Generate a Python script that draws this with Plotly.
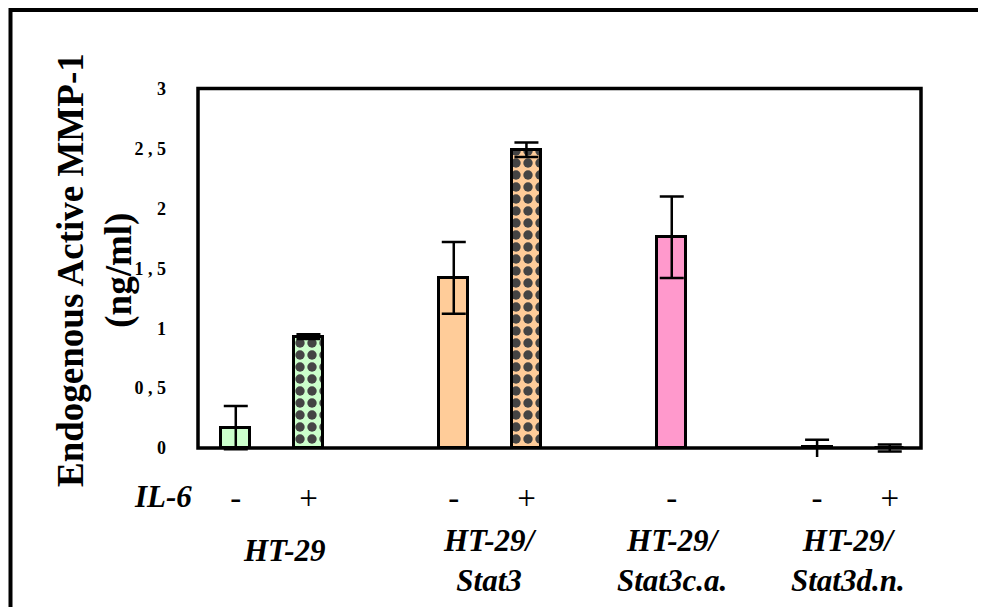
import plotly.graph_objects as go

# ---- data ----
groups = ["HT-29", "HT-29/<br>Stat3", "HT-29/<br>Stat3c.a.", "HT-29/<br>Stat3d.n."]
bar_group = [0, 0, 1, 1, 2, 3, 3]
il6 = ["-", "+", "-", "+", "-", "-", "+"]
values = [0.17, 0.93, 1.42, 2.49, 1.76, 0.005, 0.0]
errors_plus = [0.18, 0.02, 0.30, 0.06, 0.34, 0.065, 0.03]
errors_minus = [0.18, 0.02, 0.30, 0.06, 0.34, 0.10, 0.03]
yticks = [0, 0.5, 1, 1.5, 2, 2.5, 3]
ytick_labels = ["0", "0 , 5", "1", "1 , 5", "2", "2 , 5", "3"]

group_colors = ["#CCFFCC", "#FFCC99", "#FF99CC", "#FFFFFF"]

# slot positions: consecutive within a group, one empty slot between groups
slots = []
s = 0
for i, g in enumerate(bar_group):
    if i > 0:
        s += 1 if g == bar_group[i - 1] else 2
    slots.append(s)

colors = [group_colors[g] for g in bar_group]
shapes_pat = ["." if v == "+" else "" for v in il6]

fig = go.Figure()
fig.add_trace(go.Bar(
    x=slots, y=values, width=0.4,
    marker=dict(color=colors, line=dict(color="black", width=3),
                pattern=dict(shape=shapes_pat, fgcolor="black", bgcolor=colors,
                             fgopacity=1, size=12, solidity=0.48)),
    error_y=dict(type="data", array=errors_plus, arrayminus=errors_minus,
                 symmetric=False, visible=True, color="black",
                 thickness=2.5, width=12),
    showlegend=False,
))

# page body has an 8px margin: lay out in screen pixels, convert to figure pixels
OFF = 8
W, H = 986 - OFF, 615 - 16
L = 198 - OFF
R = W - (921 - OFF)
T = 77
B = H - 449
pw, ph = W - L - R, H - T - B

def px(xscreen):
    return (xscreen - OFF - L) / pw

def py(yscreen):
    return (H - B - (yscreen - OFF)) / ph

serif = "Liberation Serif, Times New Roman, serif"

annotations = [
    dict(text="Endogenous Active MMP-1<br>(ng/ml)", textangle=-90,
         xref="paper", yref="paper", x=px(95), y=py(270),
         xanchor="center", yanchor="middle", showarrow=False,
         font=dict(family=serif, size=37, color="black", weight="bold")),
    dict(text="IL-6", xref="paper", yref="paper", x=px(163), y=py(497),
         xanchor="center", yanchor="middle", showarrow=False,
         font=dict(family=serif, size=31, color="black", weight="bold", style="italic")),
]

for gi, gname in enumerate(groups):
    xs = [slots[i] for i in range(len(slots)) if bar_group[i] == gi]
    cx = sum(xs) / len(xs)
    two = "<br>" in gname
    annotations.append(dict(
        text=gname, xref="x", yref="paper", x=cx, y=py(560.5 if two else 550),
        xshift=12 if gi == 0 else (-5 if gi == 3 else 0),
        xanchor="center", yanchor="middle", showarrow=False, align="center",
        font=dict(family=serif, size=31, color="black", weight="bold", style="italic")))

shapes = [
    # plot frame, bottom edge at y = 0
    dict(type="rect", xref="paper", yref="y", x0=0, x1=1, y0=0, y1=3,
         line=dict(color="black", width=3.5), layer="above"),
    # outer figure frame
    dict(type="rect", xref="paper", yref="paper", x0=px(10.5), x1=px(1010),
         y0=py(640), y1=py(10), line=dict(color="black", width=4), layer="above"),
]

fig.update_layout(
    width=W, height=H, autosize=False,
    margin=dict(l=L, r=R, t=T, b=B),
    paper_bgcolor="white", plot_bgcolor="white",
    bargap=0,
    xaxis=dict(range=[-0.52, 9.43], tickmode="array", tickvals=slots, ticktext=il6,
               showgrid=False, zeroline=False, showline=False, ticks="",
               tickfont=dict(family=serif, size=33, color="black"),
               ticklabelstandoff=18),
    yaxis=dict(range=[-0.075, 3.03], tickmode="array", tickvals=yticks, ticktext=ytick_labels,
               showgrid=False, zeroline=False, showline=False, ticks="",
               tickfont=dict(family=serif, size=18, color="black", weight="bold"),
               ticklabelstandoff=31),
    annotations=annotations,
    shapes=shapes,
)

fig.write_html("out.html")
